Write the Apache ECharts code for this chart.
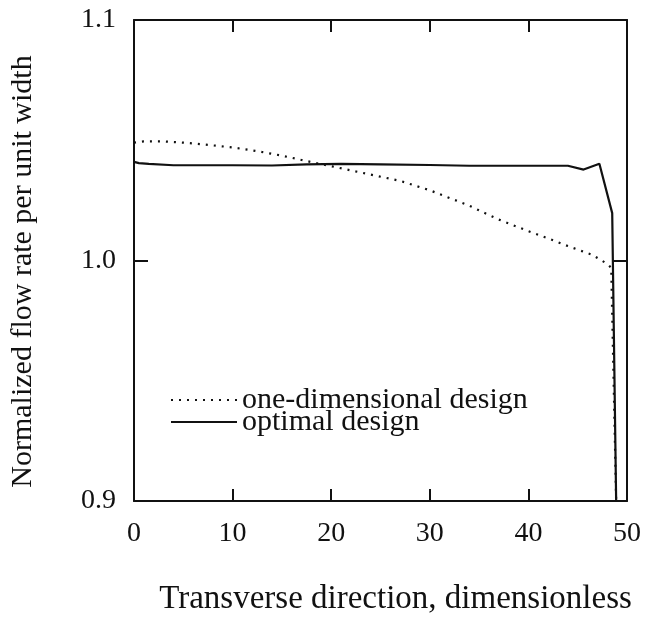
<!DOCTYPE html>
<html>
<head>
<meta charset="utf-8">
<script src="https://cdn.jsdelivr.net/npm/echarts@6/dist/echarts.min.js"></script>
<style>
html,body{margin:0;padding:0;background:#fff;}
#chart{width:654px;height:621px;}
</style>
</head>
<body>
<div id="chart"></div>
<script>
// ---- data ----
var xTicks = [0, 10, 20, 30, 40, 50];
var yTicks = [0.9, 1.0, 1.1];

var oneDimX = [0, 1, 3, 5, 7, 10, 12.3, 15, 17, 20, 23, 27, 30, 34, 37, 40, 42, 44, 46.5, 48, 48.4, 48.9];
var oneDimY = [1.049, 1.0495, 1.0495, 1.049, 1.0483, 1.047, 1.0456, 1.0436, 1.0418, 1.0392, 1.0366, 1.0331, 1.0292, 1.0228, 1.017, 1.0122, 1.0092, 1.006, 1.0023, 0.9986, 0.997, 0.9];

var optX = [0, 0.5, 1.5, 4, 7, 10, 14, 17.5, 21, 25, 30, 34, 37, 40, 44, 45.6, 47.2, 48.5, 48.9];
var optY = [1.041, 1.0405, 1.0402, 1.0396, 1.0396, 1.0396, 1.0395, 1.0400, 1.0402, 1.0400, 1.0397, 1.0394, 1.0394, 1.0394, 1.0394, 1.0378, 1.0402, 1.0197, 0.9];

var seriesNames = ['one-dimensional design', 'optimal design'];
var xTitle = 'Transverse direction, dimensionless';
var yTitle = 'Normalized flow rate per unit width';

function pairs(xs, ys) { return xs.map(function (x, i) { return [x, ys[i]]; }); }

var FONT = '"Liberation Serif", "Times New Roman", serif';
var INK = '#111';

var chart = echarts.init(document.getElementById('chart'), null, {renderer: 'canvas'});

var baseX = {
  type: 'value', min: xTicks[0], max: xTicks[xTicks.length - 1], interval: 10,
  splitLine: {show: false},
  axisLine: {show: true, onZero: false, lineStyle: {color: INK, width: 2}},
  axisTick: {show: true, inside: true, length: 12, lineStyle: {color: INK, width: 2}}
};
var baseY = {
  type: 'value', min: yTicks[0], max: yTicks[yTicks.length - 1], interval: 0.1,
  splitLine: {show: false},
  axisLine: {show: true, onZero: false, lineStyle: {color: INK, width: 2}},
  axisTick: {show: true, inside: true, length: 14, lineStyle: {color: INK, width: 2}}
};

chart.setOption({
  backgroundColor: '#fff',
  animation: false,
  grid: {left: 131, right: 27, top: 20, bottom: 114, containLabel: false},
  legend: {
    show: true,
    orient: 'vertical',
    left: 165, top: 380,
    itemGap: -8,
    itemWidth: 66, itemHeight: 14,
    itemStyle: {opacity: 0},
    textStyle: {fontFamily: FONT, fontSize: 30, color: INK},
    data: seriesNames
  },
  xAxis: [
    Object.assign({}, baseX, {
      position: 'bottom',
      name: xTitle, nameLocation: 'middle', nameGap: 82,
      nameTextStyle: {fontFamily: FONT, fontSize: 33, color: INK, padding: [0, 0, 0, 30]},
      axisLabel: {show: true, margin: 19, fontFamily: FONT, fontSize: 28, color: INK}
    }),
    Object.assign({}, baseX, {position: 'top', axisLabel: {show: false}})
  ],
  yAxis: [
    Object.assign({}, baseY, {
      position: 'left',
      name: yTitle, nameLocation: 'middle', nameGap: 96, nameRotate: 90,
      nameTextStyle: {fontFamily: FONT, fontSize: 30, color: INK, padding: [0, 22, 0, 0]},
      axisLabel: {show: true, margin: 18, fontFamily: FONT, fontSize: 28, color: INK,
        formatter: function (v) { return v.toFixed(1); }}
    }),
    Object.assign({}, baseY, {position: 'right', axisLabel: {show: false}})
  ],
  series: [
    {
      name: seriesNames[0], type: 'line', xAxisIndex: 0, yAxisIndex: 0,
      data: pairs(oneDimX, oneDimY), showSymbol: false, symbol: 'none', smooth: false,
      lineStyle: {color: INK, width: 2.2, type: [2, 6]},
      itemStyle: {color: INK}
    },
    {
      name: seriesNames[1], type: 'line', xAxisIndex: 0, yAxisIndex: 0,
      data: pairs(optX, optY), showSymbol: false, symbol: 'none', smooth: false,
      lineStyle: {color: INK, width: 2.2, type: 'solid'},
      itemStyle: {color: INK}
    }
  ]
});
</script>
</body>
</html>
